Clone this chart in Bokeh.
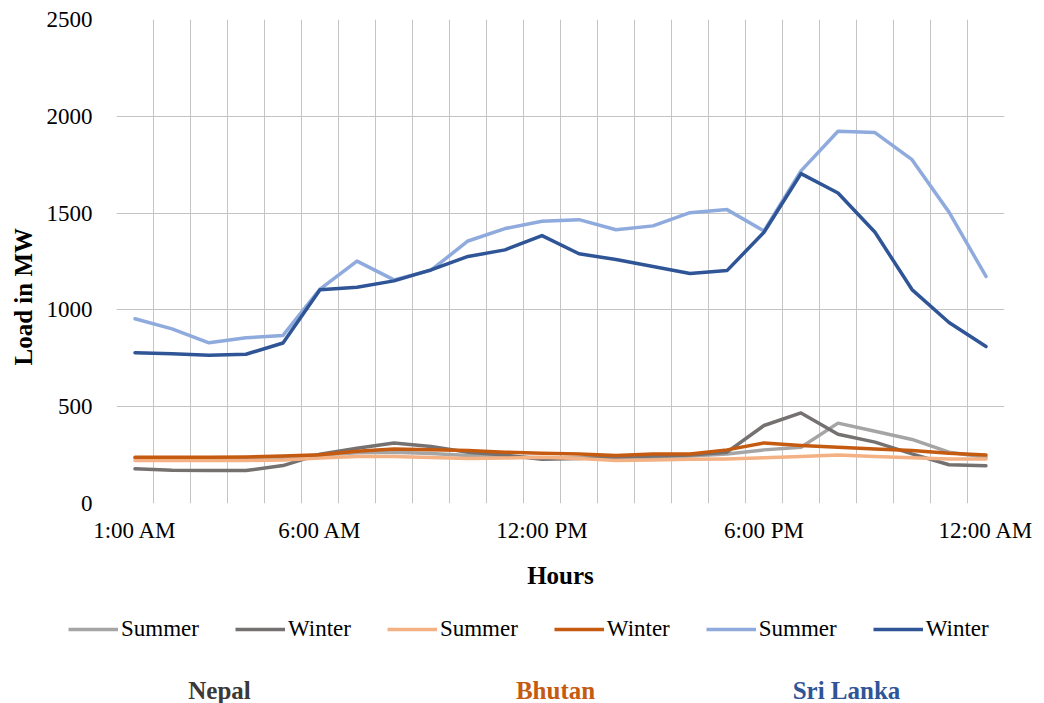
from bokeh.plotting import figure
from bokeh.layouts import column, row
from bokeh.models import (Range1d, FixedTicker, Legend, LegendItem, Label, Grid, Title)
from bokeh.embed import file_html
from bokeh.resources import INLINE

# Hourly load (MW), hour 1 = 1:00 AM ... hour 24 = 12:00 AM
hours = list(range(1, 25))
nepal_summer = [235, 232, 230, 230, 235, 250, 262, 265, 258, 248, 242, 236,
                235, 232, 238, 245, 256, 277, 291, 415, 373, 331, 265, 239]
nepal_winter = [179, 172, 170, 170, 196, 255, 285, 313, 295, 265, 250, 228,
                232, 240, 245, 250, 265, 403, 468, 358, 317, 256, 200, 195]
bhutan_summer = [222, 222, 222, 222, 225, 235, 243, 243, 238, 232, 235, 239,
                 232, 222, 225, 228, 230, 236, 243, 251, 243, 236, 230, 230]
bhutan_winter = [239, 239, 239, 240, 245, 252, 270, 282, 278, 274, 265, 260,
                 256, 248, 256, 256, 277, 313, 300, 291, 282, 274, 260, 251]
srilanka_summer = [954, 902, 830, 856, 868, 1107, 1252, 1155, 1205, 1356, 1420, 1458,
                   1466, 1414, 1434, 1502, 1518, 1408, 1718, 1923, 1916, 1776, 1505, 1173]
srilanka_winter = [779, 773, 766, 771, 829, 1104, 1117, 1150, 1207, 1276, 1310, 1384,
                   1290, 1260, 1224, 1188, 1203, 1401, 1704, 1604, 1401, 1105, 935, 811]

tick_hours = [1, 6, 12, 18, 24]
tick_labels = ["1:00 AM", "6:00 AM", "12:00 PM", "6:00 PM", "12:00 AM"]
countries = ["Nepal", "Bhutan", "Sri Lanka"]
country_colors = ["#3B3838", "#C55A11", "#2F5597"]

FONT = "Liberation Serif"
LINE_W = 3.5
W = 1044

p = figure(frame_width=888, frame_height=484, output_backend="svg", toolbar_location=None,
           x_range=Range1d(0.5, 24.5), y_range=Range1d(0, 2500),
           min_border_left=116, min_border_right=40, min_border_top=19,
           min_border_bottom=92)
p.outline_line_color = None
p.background_fill_color = "white"
p.border_fill_color = "white"

# grid: one vertical line per category boundary, horizontal every 500 MW
p.xgrid.visible = False
p.ygrid.ticker = FixedTicker(ticks=[0, 500, 1000, 1500, 2000, 2500])
p.ygrid.grid_line_color = "#C4C4C4"
p.ygrid.grid_line_width = 1
vgrid = Grid(dimension=0, ticker=FixedTicker(ticks=[h - 0.5 for h in hours] + [24.5]),
             grid_line_color="#C4C4C4", grid_line_width=1)
p.add_layout(vgrid)

# axes
xa = p.xaxis[0]
xa.ticker = FixedTicker(ticks=tick_hours)
xa.major_label_overrides = {h: t for h, t in zip(tick_hours, tick_labels)}
ya = p.yaxis[0]
ya.ticker = FixedTicker(ticks=[0, 500, 1000, 1500, 2000, 2500])
for ax in (xa, ya):
    ax.axis_line_color = None
    ax.major_tick_line_color = None
    ax.minor_tick_line_color = None
    ax.major_label_text_font = FONT
    ax.major_label_text_font_size = "23px"
    ax.major_label_text_color = "#000000"
    ax.axis_label_text_font = FONT
    ax.axis_label_text_font_style = "bold"
    ax.axis_label_text_font_size = "25px"
    ax.axis_label_text_color = "#000000"
xa.major_label_standoff = 8
ya.major_label_standoff = 18
xa.axis_label = "Hours"
xa.axis_label_standoff = 16

# y-axis title starts a bit above the frame bottom and reads upward
p.add_layout(Title(text="Load in MW", align="left", offset=138, standoff=14,
                   text_font=FONT, text_font_style="bold", text_font_size="25px",
                   text_color="#000000"), "left")

series = [
    (nepal_summer, "#A5A5A5", "Summer"),
    (nepal_winter, "#767171", "Winter"),
    (bhutan_summer, "#F4B183", "Summer"),
    (bhutan_winter, "#C55A11", "Winter"),
    (srilanka_summer, "#8FAADC", "Summer"),
    (srilanka_winter, "#2F5597", "Winter"),
]
for vals, color, name in series:
    p.line(hours, vals, line_color=color, line_width=LINE_W,
           line_join="round", line_cap="round")

# strip under the chart: legend and country captions, in page pixels
H2 = 108
foot = figure(frame_width=W, frame_height=H2, output_backend="svg", toolbar_location=None,
              x_range=Range1d(0, W), y_range=Range1d(0, H2), min_border=0,
              min_border_left=0, min_border_right=0, min_border_top=0,
              min_border_bottom=0, x_axis_type=None, y_axis_type=None)
foot.outline_line_color = None
foot.xgrid.visible = False
foot.ygrid.visible = False
foot.background_fill_color = "white"
foot.border_fill_color = "white"

# legend swatches: same series, which lie far above this strip's range and stay hidden
items = []
for vals, color, name in series:
    r = foot.line(hours, vals, line_color=color, line_width=LINE_W)
    items.append(LegendItem(label=name, renderers=[r]))

legend = Legend(items=items, orientation="horizontal", location=(68, 61),
                glyph_width=50, glyph_height=20, label_standoff=3, spacing=36,
                label_text_font=FONT, label_text_font_size="23px",
                label_text_color="#000000", border_line_color=None,
                background_fill_alpha=0, padding=0, margin=0)
foot.add_layout(legend, "center")

country_x = [219, 555, 846]
for name, cx, col in zip(countries, country_x, country_colors):
    foot.add_layout(Label(x=cx, y=13, text=name, text_align="center",
                          text_baseline="middle", text_font=FONT,
                          text_font_style="bold", text_font_size="25px",
                          text_color=col))

page = column(p, row(foot), spacing=0)
open("out.html", "w").write(file_html(page, INLINE))
